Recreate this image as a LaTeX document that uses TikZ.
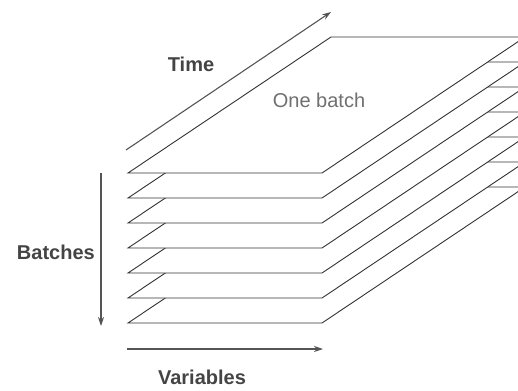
\documentclass[tikz,border=0pt]{standalone}
\usepackage{fontspec}
\setmainfont{Liberation Sans}
\usetikzlibrary{arrows.meta, positioning}

\definecolor{inkgray}{HTML}{333333}
\definecolor{axisgray}{HTML}{555555}
\definecolor{labelgray}{HTML}{444444}
\definecolor{softgray}{HTML}{707070}

\tikzset{
    sheet/.style={draw=inkgray, line width=0.9pt, fill=white, line join=miter},
    axis/.style={draw=axisgray, line width=1.1pt, -{Stealth[length=9pt, width=6pt]}},
    axislabel/.style={font=\fontsize{20}{24}\selectfont\bfseries, text=labelgray, inner sep=0pt},
    batchlabel/.style={font=\fontsize{20}{24}\selectfont, text=softgray, inner sep=0pt}
}

\begin{document}
\begin{tikzpicture}[x=1pt, y=-1pt]
    \useasboundingbox (0,0) rectangle (518,390);
    \begin{scope}
        \clip (0,0) rectangle (518,390);
        % stack of batches, bottom one first so the upper ones cover it
        \foreach \i in {6,5,...,0} {
            \draw[sheet] (128,{173+25*\i}) -- ++(194,0) -- ++(203,-136) -- ++(-194,0) -- cycle;
        }
    \end{scope}

    \node[batchlabel] (onebatch) at (319,100) {One batch};

    % axes
    \coordinate (timestart) at (126,150);
    \coordinate (timeend) at (331,12);
    \draw[axis] (timestart) -- (timeend);
    \node[axislabel] (time) at (191,64) {Time};

    \coordinate (batchstart) at (101,173);
    \coordinate (batchend) at (101,326);
    \draw[axis] (batchstart) -- (batchend);
    \node[axislabel, left=6pt of batchstart, yshift=-79pt] (batches) {Batches};

    \coordinate (varstart) at (127,349);
    \coordinate (varend) at (323,349);
    \draw[axis] (varstart) -- (varend);
    \node[axislabel] (variables) at (202,377) {Variables};
\end{tikzpicture}
\end{document}
